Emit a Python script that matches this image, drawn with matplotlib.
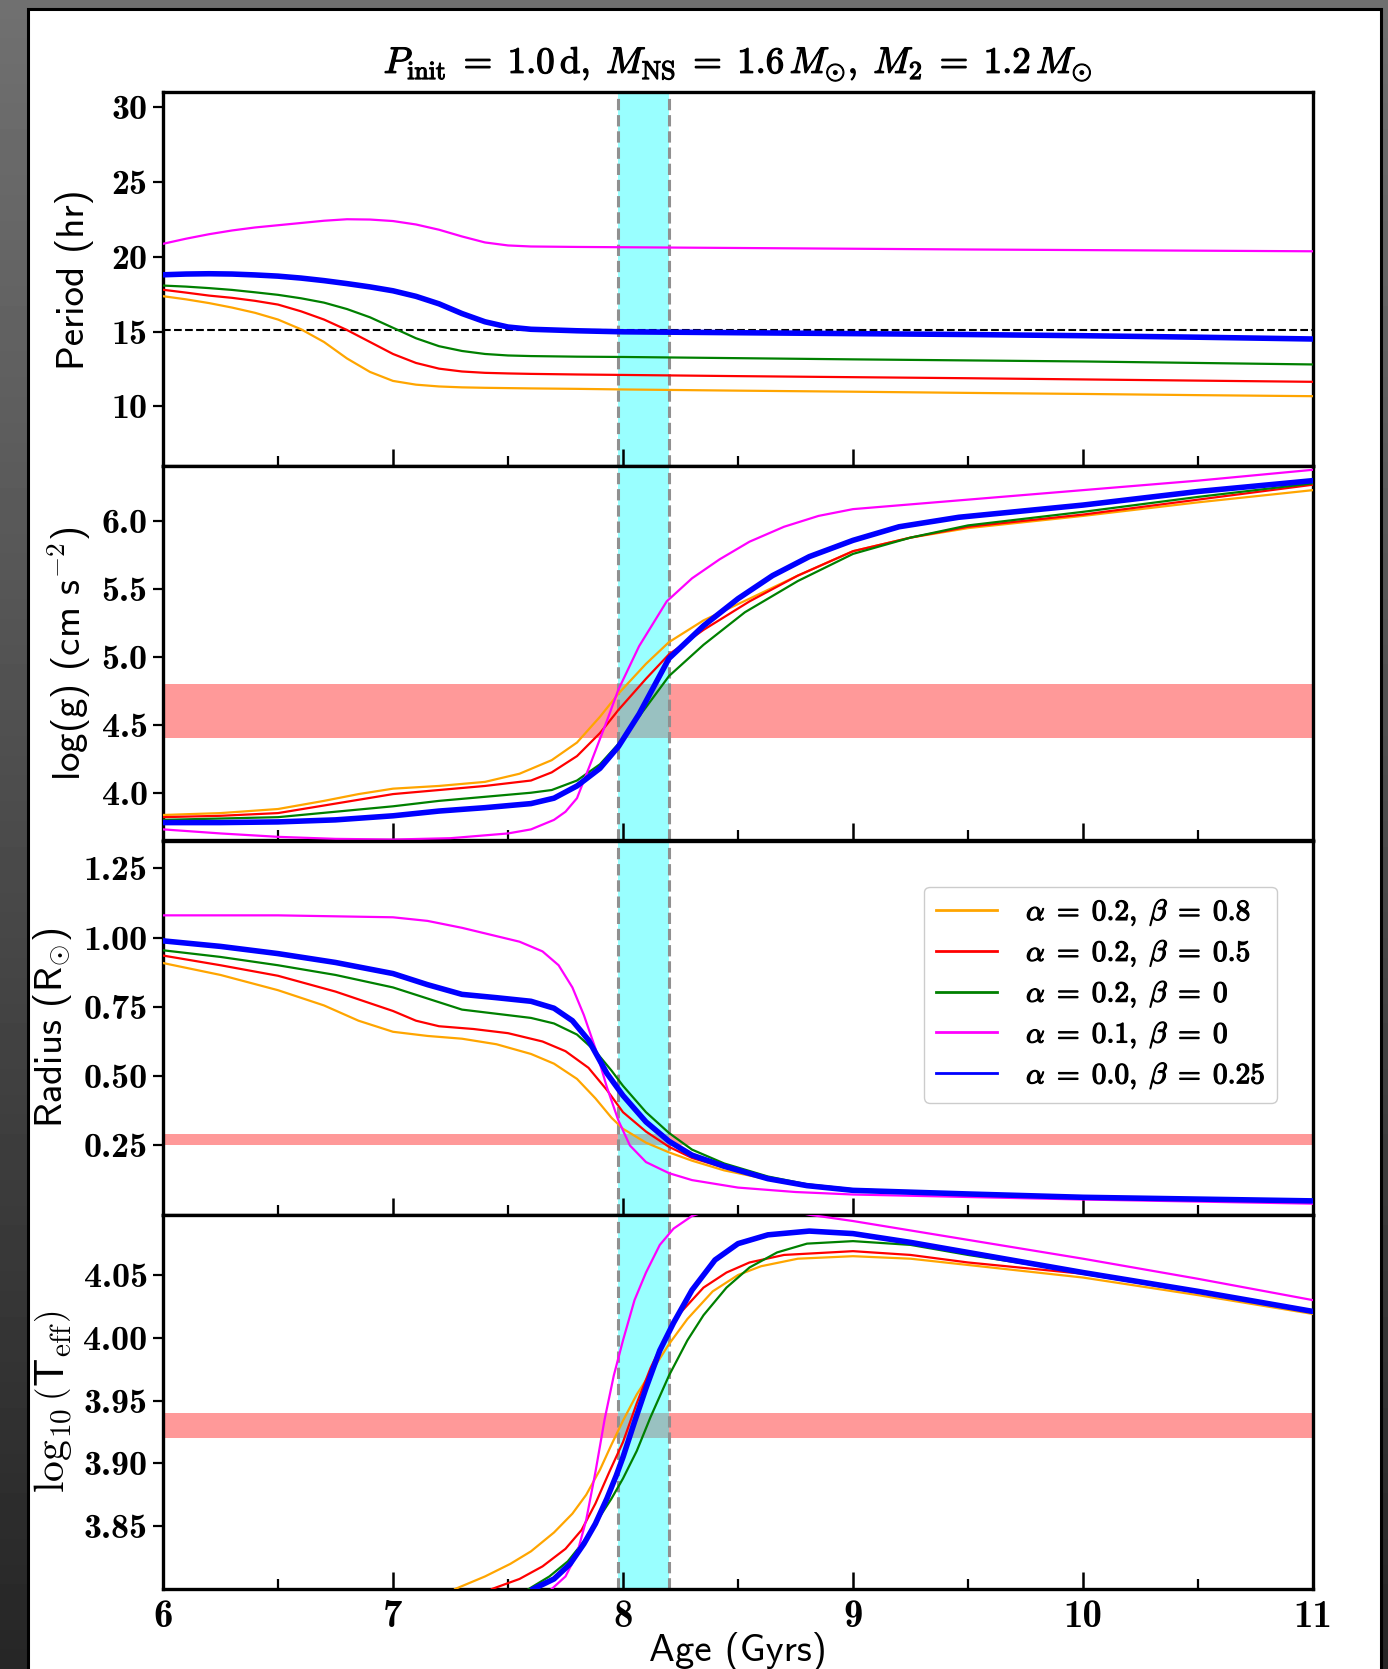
import numpy as np
import matplotlib
matplotlib.use("Agg")
import matplotlib.pyplot as plt
import matplotlib.patheffects as pe
from matplotlib.patches import Rectangle
from matplotlib.lines import Line2D
from matplotlib.ticker import MultipleLocator

plt.rcParams['font.family'] = 'cmb10'
plt.rcParams['mathtext.fontset'] = 'cm'
plt.rcParams['axes.unicode_minus'] = False
plt.rcParams['axes.formatter.use_mathtext'] = False

# ---------------- data ----------------
LABELS = [r'$\alpha\;=\;0.2,\;\beta\;=\;0.8$',
          r'$\alpha\;=\;0.2,\;\beta\;=\;0.5$',
          r'$\alpha\;=\;0.2,\;\beta\;=\;0$',
          r'$\alpha\;=\;0.1,\;\beta\;=\;0$',
          r'$\alpha\;=\;0.0,\;\beta\;=\;0.25$']
COLORS = ['#FFA500', '#FF0000', '#008000', '#FF00FF', '#0000FF']

OBS_WINDOW = [7.98, 8.2]
OBS_PERIOD = 15.08
LOGG_BAND = [4.4, 4.8]
RADIUS_BAND = [0.25, 0.29]
TEFF_BAND = [3.92, 3.94]

# Period panel (common ages)
age_p = [6.0, 6.1, 6.2, 6.3, 6.4, 6.5, 6.6, 6.7, 6.8, 6.9, 7.0, 7.1, 7.2, 7.3, 7.4, 7.5,
         7.6, 7.8, 8.0, 8.5, 9.0, 9.5, 10.0, 10.5, 11.0]
per_orange = [17.36, 17.15, 16.9, 16.6, 16.25, 15.8, 15.15, 14.3, 13.2, 12.3, 11.7, 11.45, 11.33,
              11.27, 11.24, 11.22, 11.2, 11.17, 11.13, 11.05, 10.98, 10.9, 10.83, 10.75, 10.68]
per_red = [17.79, 17.6, 17.4, 17.25, 17.05, 16.8, 16.35, 15.8, 15.1, 14.3, 13.5, 12.9, 12.52,
           12.33, 12.24, 12.2, 12.17, 12.13, 12.1, 12.02, 11.95, 11.88, 11.8, 11.72, 11.64]
per_green = [18.07, 18.0, 17.9, 17.78, 17.62, 17.45, 17.22, 16.93, 16.5, 15.95, 15.25, 14.55, 14.02,
             13.7, 13.5, 13.4, 13.36, 13.32, 13.3, 13.22, 13.14, 13.07, 13.0, 12.9, 12.8]
per_magenta = [20.86, 21.2, 21.5, 21.75, 21.95, 22.1, 22.25, 22.4, 22.5, 22.48, 22.38, 22.15, 21.8,
               21.35, 20.95, 20.75, 20.68, 20.65, 20.63, 20.58, 20.53, 20.48, 20.44, 20.4, 20.36]
per_blue = [18.79, 18.84, 18.86, 18.84, 18.78, 18.7, 18.57, 18.4, 18.2, 17.98, 17.72, 17.35, 16.85,
            16.2, 15.65, 15.3, 15.15, 15.05, 14.98, 14.92, 14.86, 14.8, 14.72, 14.62, 14.5]

# log g panel
logg_orange_x = [6.0, 6.25, 6.5, 6.7, 6.85, 7.0, 7.2, 7.4, 7.55, 7.69, 7.8, 7.9, 7.98, 8.1, 8.2,
                 8.35, 8.55, 8.76, 9.0, 9.25, 9.5, 10.0, 10.5, 11.0]
logg_orange_y = [3.836, 3.85, 3.88, 3.94, 3.99, 4.03, 4.05, 4.08, 4.14, 4.24, 4.37, 4.56, 4.73, 4.95,
                 5.11, 5.27, 5.43, 5.6, 5.78, 5.88, 5.95, 6.04, 6.14, 6.23]
logg_red_x = [6.0, 6.25, 6.5, 6.75, 7.0, 7.2, 7.4, 7.6, 7.69, 7.8, 7.9, 7.98, 8.1, 8.2, 8.35, 8.55,
              8.76, 9.0, 9.25, 9.5, 10.0, 10.5, 11.0]
logg_red_y = [3.82, 3.83, 3.85, 3.92, 3.99, 4.02, 4.05, 4.09, 4.15, 4.27, 4.44, 4.61, 4.84, 5.02, 5.2,
              5.41, 5.6, 5.78, 5.88, 5.96, 6.05, 6.16, 6.27]
logg_green_x = [6.0, 6.25, 6.5, 6.75, 7.0, 7.2, 7.4, 7.6, 7.69, 7.8, 7.9, 7.98, 8.1, 8.2, 8.35, 8.53,
                8.76, 9.0, 9.25, 9.5, 10.0, 10.5, 11.0]
logg_green_y = [3.80, 3.81, 3.82, 3.86, 3.9, 3.94, 3.97, 4.0, 4.02, 4.09, 4.21, 4.36, 4.63, 4.86, 5.09,
                5.33, 5.56, 5.76, 5.88, 5.97, 6.07, 6.18, 6.28]
logg_magenta_x = [6.0, 6.25, 6.5, 6.75, 7.0, 7.25, 7.5, 7.6, 7.7, 7.75, 7.8, 7.86, 7.93, 7.98, 8.07,
                  8.19, 8.3, 8.42, 8.55, 8.7, 8.85, 9.0, 9.5, 10.0, 10.5, 11.0]
logg_magenta_y = [3.73, 3.70, 3.675, 3.66, 3.655, 3.665, 3.7, 3.73, 3.8, 3.86, 3.96, 4.22, 4.53, 4.76,
                  5.08, 5.41, 5.58, 5.72, 5.85, 5.96, 6.04, 6.09, 6.16, 6.23, 6.30, 6.38]
logg_blue_x = [6.0, 6.25, 6.5, 6.75, 7.0, 7.2, 7.4, 7.6, 7.7, 7.8, 7.9, 7.98, 8.07, 8.2, 8.35, 8.5,
               8.65, 8.81, 9.0, 9.2, 9.46, 10.0, 10.5, 11.0]
logg_blue_y = [3.78, 3.78, 3.785, 3.80, 3.83, 3.865, 3.89, 3.92, 3.96, 4.05, 4.18, 4.34, 4.58, 4.99,
               5.23, 5.43, 5.6, 5.74, 5.86, 5.96, 6.03, 6.12, 6.22, 6.30]

# Radius panel
rad_orange_x = [6.0, 6.25, 6.5, 6.7, 6.85, 7.0, 7.15, 7.3, 7.45, 7.6, 7.7, 7.8, 7.88, 7.95, 8.0, 8.1,
                8.2, 8.3, 8.44, 8.63, 8.8, 9.0, 9.5, 10.0, 11.0]
rad_orange_y = [0.908, 0.865, 0.81, 0.755, 0.70, 0.66, 0.645, 0.635, 0.615, 0.58, 0.545, 0.49, 0.42,
                0.35, 0.31, 0.26, 0.225, 0.195, 0.16, 0.128, 0.105, 0.09, 0.075, 0.065, 0.05]
rad_red_x = [6.0, 6.25, 6.5, 6.75, 7.0, 7.1, 7.2, 7.35, 7.5, 7.65, 7.75, 7.85, 7.93, 8.0, 8.1, 8.2,
             8.3, 8.44, 8.63, 8.8, 9.0, 9.5, 10.0, 11.0]
rad_red_y = [0.935, 0.9, 0.862, 0.805, 0.735, 0.70, 0.68, 0.67, 0.655, 0.625, 0.59, 0.53, 0.45, 0.37,
             0.30, 0.245, 0.205, 0.17, 0.13, 0.105, 0.09, 0.075, 0.065, 0.05]
rad_green_x = [6.0, 6.25, 6.5, 6.75, 7.0, 7.15, 7.3, 7.45, 7.6, 7.7, 7.8, 7.88, 7.95, 8.0, 8.1, 8.2,
               8.3, 8.44, 8.63, 8.8, 9.0, 9.5, 10.0, 11.0]
rad_green_y = [0.954, 0.93, 0.90, 0.865, 0.82, 0.78, 0.74, 0.725, 0.71, 0.69, 0.65, 0.59, 0.52, 0.465,
               0.37, 0.295, 0.235, 0.185, 0.138, 0.11, 0.092, 0.076, 0.065, 0.05]
rad_magenta_x = [6.0, 6.5, 7.0, 7.15, 7.3, 7.45, 7.55, 7.65, 7.72, 7.78, 7.83, 7.88, 7.93, 7.98, 8.03,
                 8.1, 8.2, 8.3, 8.5, 8.75, 9.0, 10.0, 11.0]
rad_magenta_y = [1.08, 1.08, 1.073, 1.06, 1.035, 1.005, 0.985, 0.95, 0.9, 0.82, 0.72, 0.6, 0.46, 0.34,
                 0.25, 0.19, 0.15, 0.125, 0.098, 0.082, 0.073, 0.055, 0.04]
rad_blue_x = [6.0, 6.25, 6.5, 6.75, 7.0, 7.15, 7.3, 7.45, 7.6, 7.7, 7.78, 7.85, 7.93, 8.0, 8.1, 8.2,
              8.3, 8.44, 8.63, 8.8, 9.0, 9.5, 10.0, 11.0]
rad_blue_y = [0.988, 0.968, 0.942, 0.91, 0.87, 0.83, 0.795, 0.783, 0.77, 0.745, 0.70, 0.63, 0.51, 0.43,
              0.335, 0.265, 0.215, 0.175, 0.13, 0.105, 0.088, 0.075, 0.063, 0.05]

# Teff panel
teff_orange_x = [7.27, 7.4, 7.51, 7.6, 7.7, 7.78, 7.84, 7.9, 7.95, 8.0, 8.06, 8.12, 8.2, 8.28, 8.39,
                 8.5, 8.6, 8.76, 9.0, 9.25, 9.5, 10.0, 10.5, 11.0]
teff_orange_y = [3.80, 3.81, 3.82, 3.83, 3.845, 3.86, 3.875, 3.895, 3.915, 3.934, 3.955, 3.972, 3.995,
                 4.015, 4.037, 4.05, 4.057, 4.063, 4.065, 4.063, 4.058, 4.048, 4.034, 4.019]
teff_red_x = [7.43, 7.55, 7.65, 7.75, 7.82, 7.88, 7.94, 8.0, 8.06, 8.12, 8.18, 8.25, 8.35, 8.45, 8.55,
              8.7, 9.0, 9.25, 9.5, 10.0, 10.5, 11.0]
teff_red_y = [3.80, 3.808, 3.818, 3.832, 3.847, 3.868, 3.893, 3.917, 3.948, 3.976, 3.999, 4.02, 4.04,
              4.052, 4.06, 4.066, 4.069, 4.066, 4.06, 4.051, 4.036, 4.021]
teff_green_x = [7.59, 7.68, 7.76, 7.83, 7.89, 7.95, 8.0, 8.06, 8.12, 8.2, 8.28, 8.35, 8.45, 8.55, 8.67,
                8.8, 9.0, 9.25, 9.5, 10.0, 10.5, 11.0]
teff_green_y = [3.80, 3.81, 3.822, 3.838, 3.855, 3.872, 3.888, 3.91, 3.937, 3.97, 3.998, 4.018, 4.04,
                4.056, 4.068, 4.075, 4.077, 4.074, 4.066, 4.052, 4.037, 4.021]
teff_magenta_x = [7.69, 7.75, 7.8, 7.84, 7.88, 7.92, 7.96, 8.0, 8.05, 8.1, 8.16, 8.22, 8.3, 8.4, 8.6,
                  8.81, 9.0, 9.5, 10.0, 10.5, 11.0]
teff_magenta_y = [3.80, 3.81, 3.828, 3.855, 3.893, 3.935, 3.97, 3.998, 4.03, 4.052, 4.074, 4.087, 4.097,
                  4.103, 4.106, 4.098, 4.093, 4.078, 4.063, 4.047, 4.03]
teff_blue_x = [7.61, 7.7, 7.77, 7.83, 7.88, 7.93, 7.97, 8.0, 8.05, 8.1, 8.16, 8.22, 8.3, 8.4, 8.5, 8.63,
               8.81, 9.0, 9.25, 9.5, 10.0, 10.5, 11.0]
teff_blue_y = [3.80, 3.808, 3.82, 3.836, 3.852, 3.872, 3.89, 3.905, 3.933, 3.96, 3.99, 4.012, 4.038,
               4.062, 4.075, 4.082, 4.085, 4.083, 4.076, 4.068, 4.052, 4.037, 4.021]

# ---------------- figure ----------------
W, H = 1388, 1669
fig = plt.figure(figsize=(W / 100, H / 100), dpi=100)

# background frame (gray gradient + white page)
bg = fig.add_axes([0, 0, 1, 1])
bg.set_zorder(-5)
grad = np.linspace(0.44, 0.15, 256).reshape(-1, 1)
bg.imshow(np.repeat(grad, 2, axis=1), cmap='gray', vmin=0, vmax=1,
          extent=[0, 1, 0, 1], aspect='auto', origin='upper')
bg.add_patch(Rectangle((28 / W, -0.01), (1381 - 28) / W, 1 - 9 / H + 0.01,
                       facecolor='white', edgecolor='black', lw=2.2,
                       transform=bg.transAxes))
bg.set_xlim(0, 1); bg.set_ylim(0, 1)
bg.axis('off')

L, R = 163 / W, 1313 / W
T, B = 1 - 92 / H, 1 - 1589 / H
h = (T - B) / 4

axes = []
for i in range(4):
    ax = fig.add_axes([L, T - (i + 1) * h, R - L, h],
                      sharex=axes[0] if axes else None)
    axes.append(ax)

panels = [
    ([age_p] * 5, [per_orange, per_red, per_green, per_magenta, per_blue]),
    ([logg_orange_x, logg_red_x, logg_green_x, logg_magenta_x, logg_blue_x],
     [logg_orange_y, logg_red_y, logg_green_y, logg_magenta_y, logg_blue_y]),
    ([rad_orange_x, rad_red_x, rad_green_x, rad_magenta_x, rad_blue_x],
     [rad_orange_y, rad_red_y, rad_green_y, rad_magenta_y, rad_blue_y]),
    ([teff_orange_x, teff_red_x, teff_green_x, teff_magenta_x, teff_blue_x],
     [teff_orange_y, teff_red_y, teff_green_y, teff_magenta_y, teff_blue_y]),
]
bands = [None, LOGG_BAND, RADIUS_BAND, TEFF_BAND]
ylims = [(6, 31), (3.648, 6.406), (0.0, 1.35), (3.80, 4.098)]
yticks = [[10, 15, 20, 25, 30], [4.0, 4.5, 5.0, 5.5, 6.0],
          [0.25, 0.50, 0.75, 1.00, 1.25], [3.85, 3.90, 3.95, 4.00, 4.05]]
yfmt = ['{:.0f}', '{:.1f}', '{:.2f}', '{:.2f}']
ylabels = ['Period (hr)', r'log(g) (cm s$^{-2}$)', r'Radius (R$_{\odot}$)',
           r'$\log_{10}\left(\mathsf{T}_{\mathrm{eff}}\right)$']
ylab_size = [28, 28, 28, 30]
label_xc = [74, 69, 52.5, 52.5]   # visible label centres (pixels from left)

for i, ax in enumerate(axes):
    if bands[i] is not None:
        ax.axhspan(bands[i][0], bands[i][1], color='red', alpha=0.4, lw=0, zorder=1)
    ax.axvspan(OBS_WINDOW[0], OBS_WINDOW[1], color='cyan', alpha=0.4, lw=0, zorder=1.5)
    for xv in OBS_WINDOW:
        ax.axvline(xv, color='#909090', ls='--', lw=2.2, zorder=1.6)
    if i == 0:
        ax.axhline(OBS_PERIOD, color='black', ls='--', lw=1.5, zorder=1.7)
    xs, ys = panels[i]
    for k in range(5):
        lw = 4.0 if k == 4 else 1.6
        ax.plot(xs[k], ys[k], color=COLORS[k], lw=lw, zorder=3 + (1 if k == 4 else 0),
                solid_joinstyle='round')
    ax.set_ylim(*ylims[i])
    ax.set_yticks(yticks[i])
    ax.set_yticklabels([yfmt[i].format(v) for v in yticks[i]])
    ax.set_xlim(6, 11)
    ax.xaxis.set_major_locator(MultipleLocator(1))
    ax.xaxis.set_minor_locator(MultipleLocator(0.5))
    ax.tick_params(axis='y', which='both', direction='out', length=7, width=1.6,
                   labelsize=26, left=True, right=False, pad=4)
    ax.tick_params(axis='x', which='major', direction='in', length=12, width=1.8,
                   top=False, bottom=True, labelsize=28, pad=8)
    ax.tick_params(axis='x', which='minor', direction='in', length=7, width=1.6,
                   top=False, bottom=True)
    if i < 3:
        ax.tick_params(axis='x', labelbottom=False)
    for sp in ax.spines.values():
        sp.set_linewidth(2.4)
    ax.set_ylabel(ylabels[i], family='cmss10', fontsize=ylab_size[i])
    ax.yaxis.label.set_verticalalignment('center')
    ax.yaxis.set_label_coords((label_xc[i] - 163) / 1150, 0.5)

fig.text(738 / W, 1 - 1651 / H, 'Age (Gyrs)', family='cmss10', fontsize=28,
         ha='center', va='center')

bold = [pe.withStroke(linewidth=0.9, foreground='black')]
handles = [Line2D([], [], color=c, lw=2) for c in COLORS]
leg = axes[2].legend(handles, LABELS, loc='upper right', bbox_to_anchor=(0.9687, 0.877),
                     borderaxespad=0, fontsize=21, frameon=True, fancybox=True,
                     edgecolor='0.8', framealpha=1.0, handlelength=2.1,
                     labelspacing=0.38, handletextpad=1.0)
for t in leg.get_texts():
    t.set_path_effects(bold)

fig.text(738 / W, 1 - 64 / H,
         r'$P_{\mathrm{init}}\;=\;1.0\,\mathrm{d},\;M_{\mathrm{NS}}\;=\;1.6\,M_{\odot},\;M_{2}\;=\;1.2\,M_{\odot}$',
         ha='center', va='center', fontsize=26.5, path_effects=bold)

fig.savefig('out.png', dpi=100)
